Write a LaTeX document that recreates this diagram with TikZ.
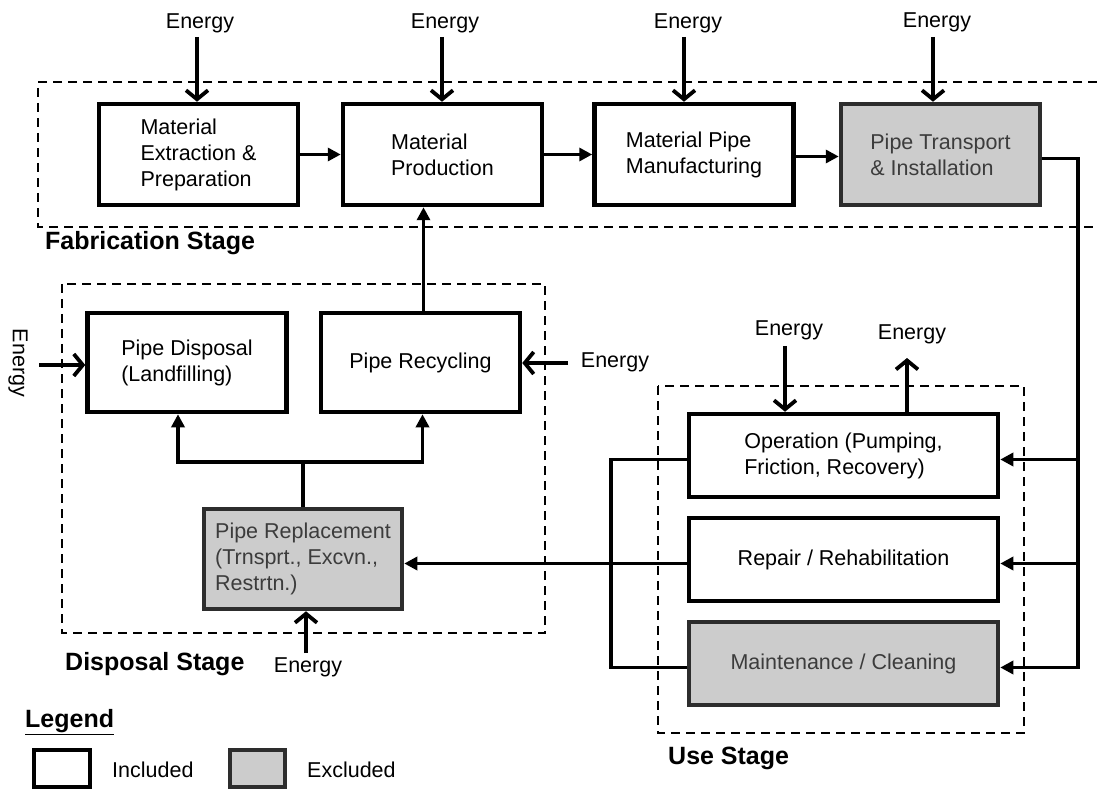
\documentclass[tikz,border=0pt]{standalone}
\usepackage{fontspec}
\setmainfont{Liberation Sans}
\usetikzlibrary{arrows.meta,calc}
\definecolor{boxgray}{RGB}{204,204,204}
\definecolor{boxedge}{RGB}{45,45,45}
\definecolor{textgray}{RGB}{60,60,60}
\begin{document}
\begin{tikzpicture}[x=1pt,y=-1pt,
  every node/.style={font=\fontsize{21.5}{26}\selectfont, inner sep=0pt},
  box/.style={draw, line width=4.5pt, minimum width=199pt, minimum height=101pt, align=left},
  greybox/.style={box, fill=boxgray, draw=boxedge, text=textgray},
  stagelbl/.style={font=\fontsize{25}{30}\selectfont\bfseries, anchor=west},
  stagebox/.style={draw, line width=2.8pt, dash pattern=on 9pt off 6pt},
  conn/.style={line width=3.3pt, -{Triangle[length=13pt,width=13pt]}},
  plainline/.style={line width=3.3pt},
  energy/.style={line width=3.8pt, -{Straight Barb[length=9pt,width=22pt]}},
]
\useasboundingbox (0,0) rectangle (1097,791);

% ---------- Fabrication stage ----------
\draw[stagebox] (1097,82) -- (38,82) -- (38,227) -- (1097,227);
\node[box] (b1) at (198.5,154.5) {Material\\Extraction \&\\Preparation};
\node[box] (b2) at (442.5,154.5) {Material\\Production};
\node[box] (b3) at (694,154.5) {Material Pipe\\Manufacturing};
\node[greybox] (b4) at (940.5,154.5) {Pipe Transport\\\& Installation};
\node[stagelbl] (fablbl) at (45,243) {Fabrication Stage};

\node (e1) at (200,23) {Energy};
\node (e2) at (445,23) {Energy};
\node (e3) at (688,23) {Energy};
\node (e4) at (937,22) {Energy};
\coordinate (s1) at (197,37);
\coordinate (s2) at (442,37);
\coordinate (s3) at (684,37);
\coordinate (s4) at (933,37);
\draw[energy] (s1) -- (s1 |- b1.north);
\draw[energy] (s2) -- (s2 |- b2.north);
\draw[energy] (s3) -- (s3 |- b3.north);
\draw[energy] (s4) -- (s4 |- b4.north);

\draw[conn] (b1) -- (b2);
\draw[conn] (b2) -- (b3);
\draw[conn] ([yshift=-2pt]b3.east) -- ([yshift=-2pt]b4.west);

% ---------- Disposal stage ----------
\draw[stagebox] (62,284) rectangle (545,633);
\node[box, minimum height=99pt] (disp) at (187,362.5) {Pipe Disposal\\(Landfilling)};
\node[box, minimum height=99pt] (recy) at (420.5,362.5) {Pipe Recycling};
\node[greybox, minimum width=198pt, minimum height=100pt] (repl) at (303,559) {Pipe Replacement\\(Trnsprt., Excvn.,\\Restrtn.)};
\node[stagelbl] (displbl) at (65,664) {Disposal Stage};

\draw[conn] ([xshift=3pt]recy.north) -- ([xshift=3pt]recy.north |- b2.south);
\coordinate (bj) at (302,462);
\draw[plainline] (repl.north) -- (repl.north |- bj);
\draw[conn] (repl.north |- bj) -| ([xshift=-9pt]disp.south);
\draw[conn] (repl.north |- bj) -| ([xshift=2pt]recy.south);

\node[rotate=-90] (el) at (18,363) {Energy};
\coordinate (sl) at (39,365);
\draw[energy] (sl) -- (sl -| disp.west);
\node (er) at (615,362) {Energy};
\coordinate (sr) at (568,363);
\draw[energy] (sr) -- (sr -| recy.east);
\node (eb) at (308,667) {Energy};
\coordinate (sb) at (306,653);
\draw[energy] (sb) -- (sb |- repl.south);

% ---------- Use stage ----------
\draw[stagebox] (658,386) rectangle (1024,733);
\node[box, minimum width=309pt, minimum height=83pt] (op) at (843.5,455.5) {Operation (Pumping,\\Friction, Recovery)};
\node[box, minimum width=309pt, minimum height=83pt] (rep) at (843.5,559.5) {Repair / Rehabilitation};
\node[greybox, minimum width=309pt, minimum height=83pt] (mnt) at (843.5,663.5) {Maintenance / Cleaning};
\node[stagelbl] (uselbl) at (668,758) {Use Stage};

\node (eo1) at (789,330) {Energy};
\coordinate (so1) at (785,346);
\draw[energy] (so1) -- (so1 |- op.north);
\node (eo2) at (912,334) {Energy};
\coordinate (so2) at (907,358);
\draw[energy] (so2 |- op.north) -- (so2);

\coordinate (rx) at (1078,0);
\coordinate (lx) at (611,0);
\coordinate (b4out) at ([yshift=-4pt]b4.east);
\coordinate (opin) at ([yshift=-4pt]op.east);
\coordinate (repin) at ([yshift=-4pt]rep.east);
\coordinate (mntin) at ([yshift=-4pt]mnt.east);
\coordinate (opout) at ([yshift=-4pt]op.west);
\coordinate (repout) at ([yshift=-4pt]rep.west);
\coordinate (mntout) at ([yshift=-4pt]mnt.west);
\draw[conn] (b4out) -| (mntin -| rx) -- (mntin);
\draw[conn] (opin -| rx) -- (opin);
\draw[conn] (repin -| rx) -- (repin);
\draw[plainline] (opout) -| (mntout -| lx) -- (mntout);
\draw[conn] (repout) -- (repout -| repl.east);

% ---------- Legend ----------
\node[stagelbl] (leg) at (25,722) {\underline{Legend}};
\node[box, minimum width=56pt, minimum height=37pt] (inc) at (62,768.5) {};
\node[anchor=west] (inct) at (112,770) {Included};
\node[greybox, minimum width=55pt, minimum height=37pt] (exc) at (257.5,768.5) {};
\node[anchor=west] (exct) at (307,770) {Excluded};
\end{tikzpicture}
\end{document}
